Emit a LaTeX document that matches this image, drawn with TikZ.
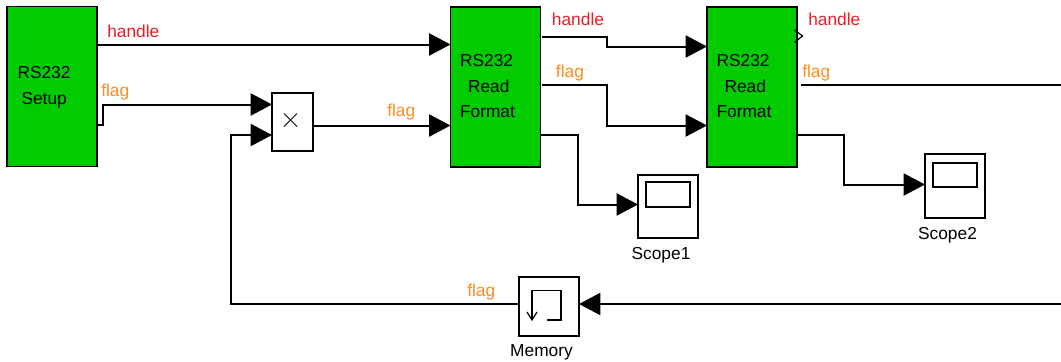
\documentclass[tikz,border=0pt]{standalone}
\usepackage{fontspec}
\setmainfont{Liberation Sans}[Ligatures=CommonOff]
\usetikzlibrary{arrows.meta}
\definecolor{blockgreen}{RGB}{0,204,0}
\definecolor{sigred}{RGB}{232,30,40}
\definecolor{sigorange}{RGB}{255,140,30}
\def\px{0.75pt}
\newcommand{\blocktext}[1]{\raisebox{3.3pt}{\begin{tabular}{@{}l@{}}#1\end{tabular}}\kern12pt\relax}
\tikzset{
  blockframe/.style={draw=black,line width=0.9pt,inner sep=0pt,outer sep=0pt,rectangle},
  greenbox/.style={blockframe,fill=blockgreen,minimum width=90*\px,minimum height=160*\px,
     font=\fontsize{13}{19}\selectfont},
  whitebox/.style={blockframe,fill=white},
  wire/.style={draw=black,line width=1.5pt,line join=miter},
  flow/.style={wire,-{Triangle[length=16pt,width=16.5pt]}},
  sigbase/.style={anchor=base west,inner sep=0pt,font=\fontsize{13}{16}\selectfont},
  redlabel/.style={sigbase,text=sigred},
  orangelabel/.style={sigbase,text=sigorange},
  caption/.style={anchor=base,inner sep=0pt,font=\fontsize{13}{16}\selectfont,text=black},
  iconline/.style={draw=black,line width=0.9pt}
}
\begin{document}
\begin{tikzpicture}[x=0.75pt,y=-0.75pt]
\useasboundingbox (0,0) rectangle (1061,361);
% blocks
\node[greenbox] (setup) at (52,86.5) {\blocktext{RS232\\\hspace*{3pt}Setup}};
\node[greenbox] (readA) at (495.5,87) {\blocktext{RS232\\\hspace*{6pt}Read\\Format}};
\node[greenbox] (readB) at (752,87) {\blocktext{RS232\\\hspace*{6pt}Read\\Format}};
\node[whitebox,minimum width=41*\px,minimum height=58*\px] (prod) at (292.5,122) {};
\node[whitebox,minimum width=60*\px,minimum height=63*\px] (scopeA) at (668,206.5) {};
\node[whitebox,minimum width=60*\px,minimum height=64*\px] (scopeB) at (955,186) {};
\node[whitebox,minimum width=60*\px,minimum height=59*\px] (mem) at (549,306.5) {};
% block icons
\draw[iconline,line width=0.7pt] (284,113.5) -- (297,126.5) (284,126.5) -- (297,113.5);
\draw[iconline] (646,182) rectangle (690,207);
\draw[iconline] (933,163) rectangle (977,187);
\draw[iconline] (532,318) -- (532,290.5) -- (561,290.5) -- (561,320) -- (547,320);
\draw[iconline] (527,312) -- (532,320) -- (537,312);
% free ends at the picture edge
\coordinate (outB) at (1061,85);
\coordinate (inMem) at (1061,304);
% connectors
\draw[flow] (setup.east |- 0,44.5) -- (readA.west |- 0,44.5);
\draw[flow] (setup.east |- 0,125) -- (102.5,125) -- (102.5,104.5) -- (prod.west |- 0,104.5);
\draw[flow] (prod.east |- 0,125.5) -- (readA.west |- 0,125.5);
\draw[flow] (mem.west |- 0,304) -- (231,304) -- (231,135) -- (prod.west |- 0,135);
\draw[flow] (542,36.5) -- (606.5,36.5) -- (606.5,46.5) -- (readB.west |- 0,46.5);
\draw[flow] (542,85) -- (606.5,85) -- (606.5,125.5) -- (readB.west |- 0,125.5);
\draw[flow] (readA.east |- 0,135) -- (577.5,135) -- (577.5,204.5) -- (scopeA.west |- 0,204.5);
\draw[flow] (readB.east |- 0,135) -- (843.5,135) -- (843.5,184.5) -- (scopeB.west |- 0,184.5);
\draw[wire] (801,85) -- (outB);
\draw[flow] (inMem) -- (mem.east |- 0,304);
% open port mark
\draw[iconline] (794.5,30) -- (802.5,36) -- (794.5,42.5);
% signal labels
\node[redlabel] (lblA) at (107,37) {handle};
\node[orangelabel] (lblB) at (101,96.7) {flag};
\node[orangelabel] (lblC) at (387,116.7) {flag};
\node[redlabel] (lblD) at (551.7,25.7) {handle};
\node[orangelabel] (lblE) at (555.7,77) {flag};
\node[redlabel] (lblF) at (808,25.7) {handle};
\node[orangelabel] (lblG) at (802,77) {flag};
\node[orangelabel] (lblH) at (467,296) {flag};
% block captions
\node[caption] (capA) at (661,259) {Scope1};
\node[caption] (capB) at (947.5,239) {Scope2};
\node[caption] (capC) at (541.5,356) {Memory};
\end{tikzpicture}
\end{document}
